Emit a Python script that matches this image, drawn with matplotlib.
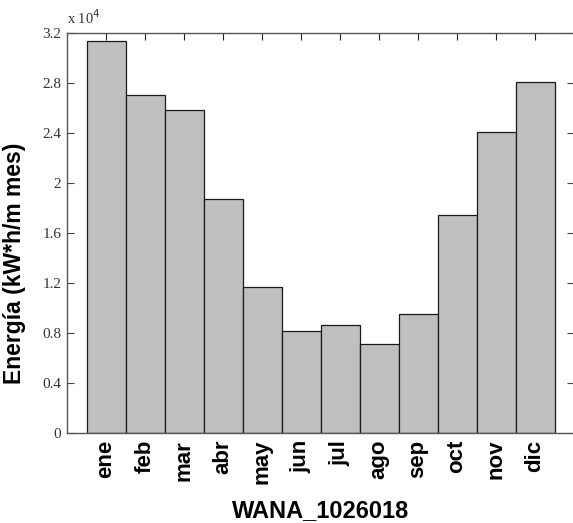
import matplotlib.pyplot as plt
from matplotlib.ticker import FuncFormatter

# energia mensual (kW*h/m mes)
meses = ['ene', 'feb', 'mar', 'abr', 'may', 'jun',
         'jul', 'ago', 'sep', 'oct', 'nov', 'dic']
energia = [31400, 27040, 25860, 18700, 11700, 8200,
           8640, 7100, 9540, 17440, 24080, 28100]
yticks = [0, 4000, 8000, 12000, 16000, 20000, 24000, 28000, 32000]

fig = plt.figure(figsize=(5.73, 5.23), dpi=100)
ax = fig.add_axes([67 / 573, 90 / 523, 507 / 573, 400 / 523])

posiciones = list(range(1, len(meses) + 1))
ax.bar(posiciones, energia, width=1.0, color='#bfbfbf',
       edgecolor='#1a1a1a', linewidth=0.9)

ax.set_xlim(0, 13)
ax.set_ylim(0, 32000)
ax.set_axisbelow(True)

ax.set_xticks(posiciones)
ax.set_xticklabels(meses, rotation=90, fontsize=16, fontweight='bold',
                   family='Liberation Sans')
ax.set_yticks(yticks)
ax.yaxis.set_major_formatter(FuncFormatter(lambda v, p: '%g' % (v / 1e4)))
for lab in ax.get_yticklabels():
    lab.set_family('Liberation Serif')
    lab.set_fontsize(11)
    lab.set_color('#333333')

ax.tick_params(axis='x', direction='in', top=True, bottom=True,
               length=5, pad=5, color='#222222')
ax.tick_params(axis='x', which='major', bottom=False, labelbottom=True)
ax.tick_params(axis='y', direction='in', left=True, right=True,
               length=5, pad=4, color='#444444')
for s in ax.spines.values():
    s.set_color('#555555')
    s.set_linewidth(1.0)

ax.text(0.0, 1.015, r'x 10$^4$', transform=ax.transAxes, ha='left',
        va='bottom', fontsize=10.5, family='Liberation Serif', color='#333333')

ax.set_xlabel('WANA_1026018', fontsize=17, fontweight='bold',
              family='Liberation Sans')
ax.set_ylabel('Energía (kW*h/m mes)', fontsize=16.5, fontweight='bold',
              family='Liberation Sans')
ax.xaxis.set_label_coords(0.5, -0.166)
ax.yaxis.set_label_coords(-0.081, 0.425)

plt.savefig('out.png', dpi=100)
